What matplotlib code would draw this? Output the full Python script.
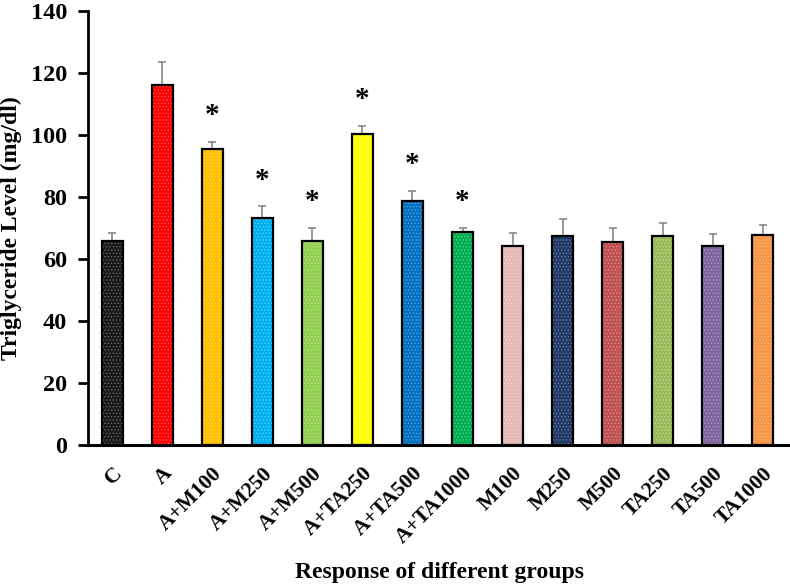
import numpy as np
import matplotlib.pyplot as plt

plt.rcParams['font.family'] = ['Liberation Serif', 'DejaVu Serif']
plt.rcParams['font.weight'] = 'bold'
plt.rcParams['hatch.linewidth'] = 0.6

# data
groups = ["C", "A", "A+M100", "A+M250", "A+M500", "A+TA250", "A+TA500", "A+TA1000",
          "M100", "M250", "M500", "TA250", "TA500", "TA1000"]
means = [66.0, 116.0, 95.4, 73.4, 66.0, 100.2, 78.6, 68.6, 64.4, 67.4, 65.4, 67.5, 64.1, 67.9]
sd = [2.3, 7.4, 2.3, 3.6, 4.0, 2.7, 3.4, 1.4, 4.1, 5.6, 4.6, 4.2, 4.1, 3.2]
significant = [False, False, True, True, True, True, True, True,
               False, False, False, False, False, False]
colors = ["#1a1a1a", "#ff0000", "#ffc000", "#00b0f0", "#92d050", "#ffff00", "#0070c0",
          "#00b050", "#e6b9b8", "#1f3864", "#c0504d", "#9bbb59", "#8064a2", "#f79646"]

x = np.arange(len(groups))
w = 0.42

fig = plt.figure(figsize=(7.9, 5.88), dpi=100)
ax = fig.add_axes([0.1114, 0.2427, 0.8886, 0.7386])

# coloured bars with a light dotted texture
ax.bar(x, means, w, color=colors, hatch='.....', edgecolor=(1, 1, 1, 0.3), linewidth=0, zorder=2)
ax.bar(x, means, w, fill=False, edgecolor='black', linewidth=1.6, zorder=3)
ax.errorbar(x, means, yerr=[np.zeros(len(sd)), sd], fmt='none', ecolor='#7f7f7f',
            elinewidth=1.1, capsize=3, capthick=1.1, zorder=1)

for i in range(len(groups)):
    if significant[i]:
        ax.text(x[i], means[i] + sd[i] + 8.5, "*", ha='center', va='center',
                fontsize=21, fontweight='bold')

ax.set_xlim(-0.48, 13.54)
ax.set_ylim(0, 140)
ax.set_yticks(np.arange(0, 141, 20))
ax.set_xticks(x)
ax.set_xticklabels(groups, rotation=45, ha='right', va='top', rotation_mode='anchor',
                   fontsize=15.5, fontweight='bold')
ax.tick_params(axis='x', length=0, pad=13)
ax.tick_params(axis='y', length=7, width=2, labelsize=17.5, direction='out', pad=8)
for t in ax.get_yticklabels():
    t.set_fontweight('bold')

ax.spines['top'].set_visible(False)
ax.spines['right'].set_visible(False)
ax.spines['left'].set_linewidth(2)
ax.spines['bottom'].set_linewidth(2.2)

ax.set_ylabel("Triglyceride Level (mg/dl)", fontsize=17, fontweight='bold', labelpad=6)
ax.set_xlabel("Response of different groups", fontsize=17, fontweight='bold', labelpad=10)

plt.savefig("out.png", dpi=100)
